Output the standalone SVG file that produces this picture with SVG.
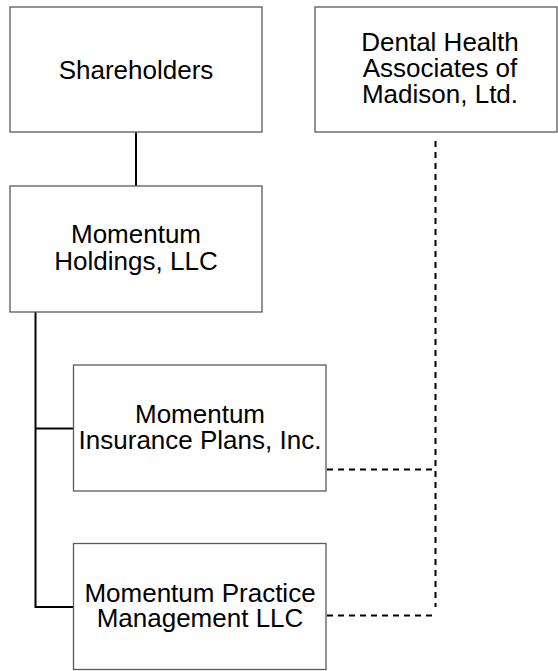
<svg xmlns="http://www.w3.org/2000/svg" width="558" height="671" viewBox="0 0 558 671">
<style>
.box{fill:#fff;stroke:#5a5a5a;stroke-width:1.3}
.t{font-family:"Liberation Sans",Arial,sans-serif;font-size:26px;fill:#000;text-anchor:middle}
.solid{fill:none;stroke:#000;stroke-width:2}
.dash{fill:none;stroke:#000;stroke-width:2;stroke-dasharray:6,5}
</style>
<rect width="558" height="671" fill="#fff"/>
<g id="connectors">
<line class="solid" x1="136" y1="132" x2="136" y2="186"/>
<polyline class="solid" points="35.5,312 35.5,607 73,607"/>
<line class="solid" x1="35.5" y1="428.5" x2="73" y2="428.5"/>
<line class="dash" x1="435.5" y1="141" x2="435.5" y2="607"/>
<line class="dash" x1="327" y1="469.5" x2="435.5" y2="469.5"/>
<line class="dash" x1="327" y1="615.5" x2="433" y2="615.5"/>
</g>
<g id="shareholders">
<rect class="box" x="10" y="7" width="252" height="125"/>
<text class="t" x="136" y="79">Shareholders</text>
</g>
<g id="dental">
<rect class="box" x="315" y="7" width="242" height="125"/>
<text class="t" x="440" y="51">Dental Health</text>
<text class="t" x="440" y="77">Associates of</text>
<text class="t" x="440" y="103">Madison, Ltd.</text>
</g>
<g id="holdings">
<rect class="box" x="10" y="186" width="252" height="126"/>
<text class="t" x="136" y="243">Momentum</text>
<text class="t" x="136" y="270">Holdings, LLC</text>
</g>
<g id="insurance">
<rect class="box" x="73.5" y="365" width="252.5" height="126"/>
<text class="t" x="200" y="423">Momentum</text>
<text class="t" x="200" y="449">Insurance Plans, Inc.</text>
</g>
<g id="practice">
<rect class="box" x="73.5" y="543.5" width="252.5" height="126"/>
<text class="t" x="200" y="601.5">Momentum Practice</text>
<text class="t" x="200" y="627">Management LLC</text>
</g>
</svg>
